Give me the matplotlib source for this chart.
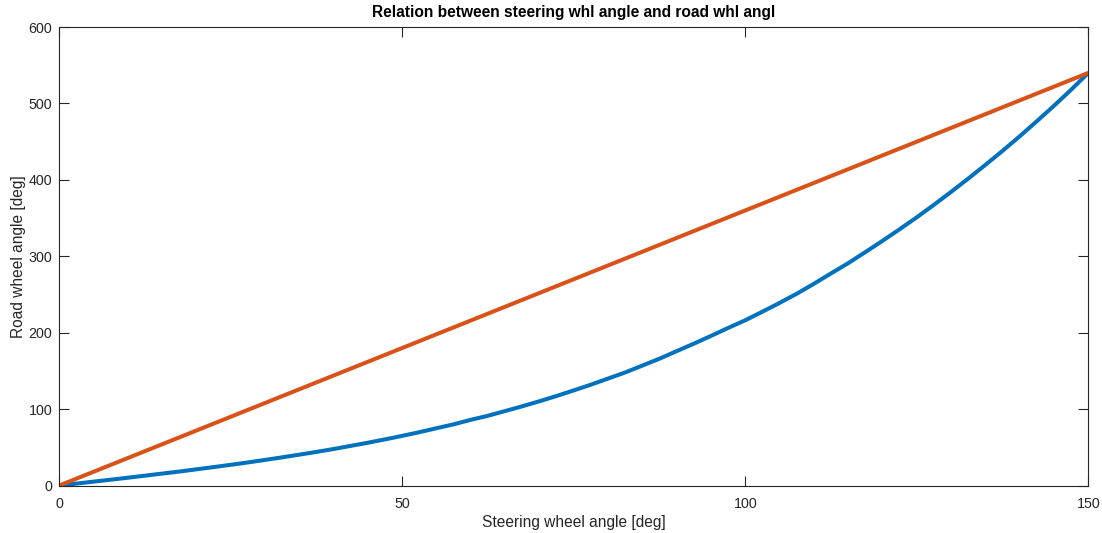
import matplotlib.pyplot as plt

# steering wheel angle (deg) and road wheel angles
steer = [0, 2.5, 5, 7.5, 10, 12.5, 15, 17.5, 20, 22.5, 25, 27.5, 30, 32.5, 35, 37.5,
         40, 42.5, 45, 47.5, 50, 52.5, 55, 57.5, 60, 62.5, 65, 67.5, 70, 72.5, 75, 77.5,
         80, 82.5, 85, 87.5, 90, 92.5, 95, 97.5, 100, 102.5, 105, 107.5, 110, 112.5,
         115, 117.5, 120, 122.5, 125, 127.5, 130, 132.5, 135, 137.5, 140, 142.5, 145,
         147.5, 150]
road_var = [0, 2.5, 5.1, 7.6, 10.2, 12.9, 15.6, 18.3, 21.2, 24.1, 27.1, 30.2, 33.5, 36.9,
            40.4, 44.0, 47.8, 51.9, 56.0, 60.4, 65, 69.8, 75, 80.1, 86, 91.3, 97.5, 103.7,
            110.3, 117.2, 124.5, 132, 140, 148, 157, 166, 175.9, 185.6, 195.8, 206.2,
            216.3, 227.5, 239, 251, 264, 277.6, 291, 305.5, 320.2, 335.4, 351, 367.4,
            384.3, 401.7, 419.6, 438, 457, 476.8, 497, 518, 540]
lin_x = [0, 150]
lin_y = [0, 540]

x_ticks = [0, 50, 100, 150]
y_ticks = [0, 100, 200, 300, 400, 500, 600]

plt.rcParams['font.family'] = ['Liberation Sans', 'DejaVu Sans']

fig = plt.figure(figsize=(11.02, 5.33), dpi=100)
ax = fig.add_axes([0.0538, 0.0891, 0.9338, 0.8602])

# curves
ax.plot(steer, road_var, color='#0072BD', linewidth=2.9, solid_capstyle='butt')
ax.plot(lin_x, lin_y, color='#D95319', linewidth=2.9, solid_capstyle='butt')

ax.set_xlim(0, 150)
ax.set_ylim(0, 600)
ax.set_xticks(x_ticks)
ax.set_yticks(y_ticks)

# matlab-ish box
for sp in ax.spines.values():
    sp.set_color('#262626')
    sp.set_linewidth(0.8)
ax.tick_params(direction='in', length=7, width=0.8, colors='#262626',
               top=True, right=True, labelsize=10.3)
ax.tick_params(axis='x', pad=8)
ax.tick_params(axis='y', pad=5)

ax.set_xlabel('Steering wheel angle [deg]', fontsize=11.2, color='#262626', labelpad=3)
ax.set_ylabel('Road wheel angle [deg]', fontsize=11.2, color='#262626', labelpad=2)
ax.set_title('Relation between steering whl angle and road whl angl',
             fontsize=11.2, fontweight='bold', pad=7)

plt.savefig('out.png', dpi=100, facecolor='white')
